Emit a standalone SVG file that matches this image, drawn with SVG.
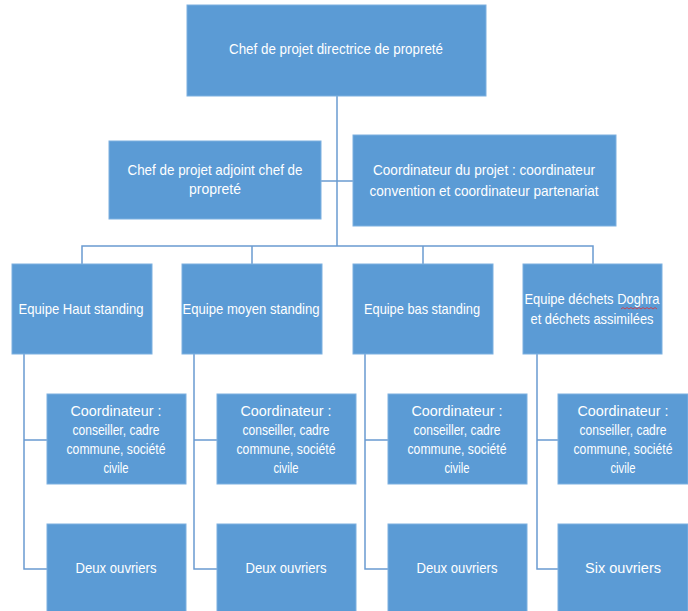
<svg xmlns="http://www.w3.org/2000/svg" width="688" height="611" viewBox="0 0 688 611">
<style>
.box{fill:#5B9BD5;stroke:#7DB0E0;stroke-width:1}
.t{font-family:"Liberation Sans",Arial,sans-serif;font-size:15px;fill:#FFFFFF;text-anchor:middle}
.ln{fill:none;stroke:#6A9BD1;stroke-width:1.5}
</style>
<rect width="688" height="611" fill="#FFFFFF"/>
<g id="connectors">
<path class="ln" d="M337,96 V246"/>
<path class="ln" d="M321,181 H353"/>
<path class="ln" d="M82,264 V246 H593 V264"/>
<path class="ln" d="M252,246 V264"/>
<path class="ln" d="M423,246 V264"/>
<path class="ln" d="M24,354 V569 H47 M24,440 H47"/>
<path class="ln" d="M194,354 V569 H217 M194,440 H217"/>
<path class="ln" d="M365,354 V569 H388 M365,440 H388"/>
<path class="ln" d="M537,354 V569 H558 M537,440 H558"/>
</g>
<g id="n-top">
<rect class="box" x="187" y="5" width="299" height="91"/>
<text class="t" x="336" y="54" textLength="214" lengthAdjust="spacingAndGlyphs">Chef de projet directrice de propreté</text>
</g>
<g id="n-adjoint">
<rect class="box" x="109" y="141" width="212" height="78"/>
<text class="t" x="215" y="175" textLength="175" lengthAdjust="spacingAndGlyphs">Chef de projet adjoint chef de</text>
<text class="t" x="215" y="194" textLength="52" lengthAdjust="spacingAndGlyphs">propreté</text>
</g>
<g id="n-coordprojet">
<rect class="box" x="353" y="135" width="263" height="91"/>
<text class="t" x="484" y="175" textLength="222" lengthAdjust="spacingAndGlyphs">Coordinateur du projet : coordinateur</text>
<text class="t" x="484" y="196" textLength="229" lengthAdjust="spacingAndGlyphs">convention et coordinateur partenariat</text>
</g>
<g id="n-haut">
<rect class="box" x="12" y="264" width="140" height="90"/>
<text class="t" x="81" y="314" textLength="125" lengthAdjust="spacingAndGlyphs">Equipe Haut standing</text>
</g>
<g id="n-moyen">
<rect class="box" x="182" y="264" width="140" height="90"/>
<text class="t" x="251" y="314" textLength="137" lengthAdjust="spacingAndGlyphs">Equipe moyen standing</text>
</g>
<g id="n-bas">
<rect class="box" x="353" y="264" width="140" height="90"/>
<text class="t" x="422" y="314" textLength="116" lengthAdjust="spacingAndGlyphs">Equipe bas standing</text>
</g>
<g id="n-doghra">
<rect class="box" x="523" y="264" width="139" height="90"/>
<text class="t" x="592" y="304" textLength="135" lengthAdjust="spacingAndGlyphs">Equipe déchets Doghra</text>
<text class="t" x="592" y="324" textLength="123" lengthAdjust="spacingAndGlyphs">et déchets assimilées</text>
<path d="M621,309 l2,-1.5 l2,1.5 l2,-1.5 l2,1.5 l2,-1.5 l2,1.5 l2,-1.5 l2,1.5 l2,-1.5 l2,1.5 l2,-1.5 l2,1.5 l2,-1.5 l2,1.5 l2,-1.5 l2,1.5 l2,-1.5 l2,1.5" fill="none" stroke="#E03030" stroke-width="0.8"/>
</g>
<g id="n-coord1">
<rect class="box" x="47" y="394" width="139" height="90"/>
<text class="t" x="116" y="416" textLength="91" lengthAdjust="spacingAndGlyphs">Coordinateur :</text>
<text class="t" x="116" y="435" textLength="87" lengthAdjust="spacingAndGlyphs">conseiller, cadre</text>
<text class="t" x="116" y="454" textLength="99" lengthAdjust="spacingAndGlyphs">commune, société</text>
<text class="t" x="116" y="473" textLength="25" lengthAdjust="spacingAndGlyphs">civile</text>
</g>
<g id="n-coord2">
<rect class="box" x="217" y="394" width="139" height="90"/>
<text class="t" x="286" y="416" textLength="91" lengthAdjust="spacingAndGlyphs">Coordinateur :</text>
<text class="t" x="286" y="435" textLength="87" lengthAdjust="spacingAndGlyphs">conseiller, cadre</text>
<text class="t" x="286" y="454" textLength="99" lengthAdjust="spacingAndGlyphs">commune, société</text>
<text class="t" x="286" y="473" textLength="25" lengthAdjust="spacingAndGlyphs">civile</text>
</g>
<g id="n-coord3">
<rect class="box" x="388" y="394" width="139" height="90"/>
<text class="t" x="457" y="416" textLength="91" lengthAdjust="spacingAndGlyphs">Coordinateur :</text>
<text class="t" x="457" y="435" textLength="87" lengthAdjust="spacingAndGlyphs">conseiller, cadre</text>
<text class="t" x="457" y="454" textLength="99" lengthAdjust="spacingAndGlyphs">commune, société</text>
<text class="t" x="457" y="473" textLength="25" lengthAdjust="spacingAndGlyphs">civile</text>
</g>
<g id="n-coord4">
<rect class="box" x="558" y="394" width="130" height="90"/>
<text class="t" x="623" y="416" textLength="91" lengthAdjust="spacingAndGlyphs">Coordinateur :</text>
<text class="t" x="623" y="435" textLength="87" lengthAdjust="spacingAndGlyphs">conseiller, cadre</text>
<text class="t" x="623" y="454" textLength="99" lengthAdjust="spacingAndGlyphs">commune, société</text>
<text class="t" x="623" y="473" textLength="25" lengthAdjust="spacingAndGlyphs">civile</text>
</g>
<g id="n-ouv1">
<rect class="box" x="47" y="524" width="139" height="90"/>
<text class="t" x="116" y="573" textLength="81" lengthAdjust="spacingAndGlyphs">Deux ouvriers</text>
</g>
<g id="n-ouv2">
<rect class="box" x="217" y="524" width="139" height="90"/>
<text class="t" x="286" y="573" textLength="81" lengthAdjust="spacingAndGlyphs">Deux ouvriers</text>
</g>
<g id="n-ouv3">
<rect class="box" x="388" y="524" width="139" height="90"/>
<text class="t" x="457" y="573" textLength="81" lengthAdjust="spacingAndGlyphs">Deux ouvriers</text>
</g>
<g id="n-ouv4">
<rect class="box" x="558" y="524" width="130" height="90"/>
<text class="t" x="623" y="573" textLength="76" lengthAdjust="spacingAndGlyphs">Six ouvriers</text>
</g>
</svg>
